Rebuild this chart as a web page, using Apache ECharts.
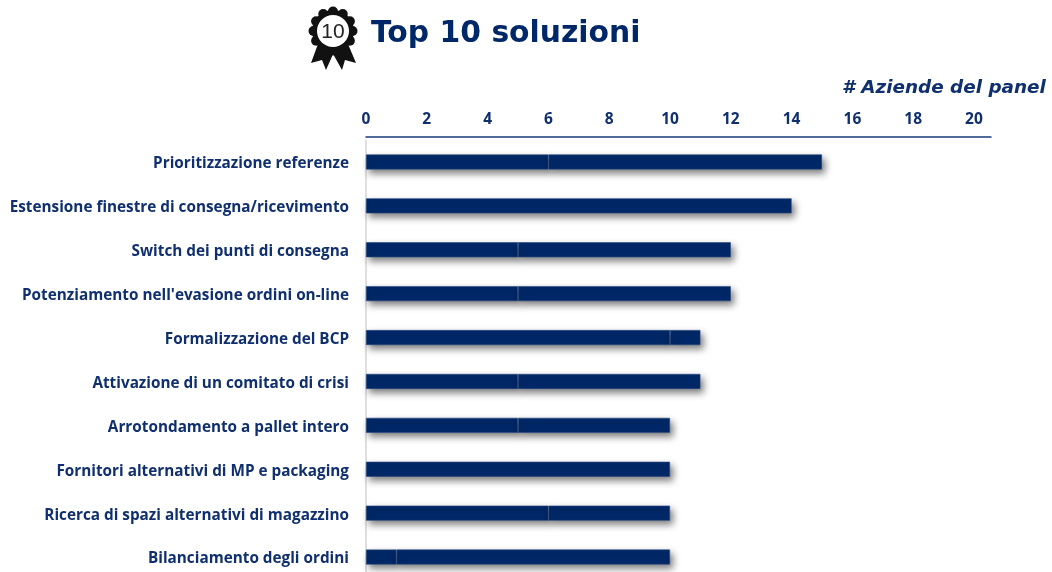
<!DOCTYPE html>
<html>
<head>
<meta charset="utf-8">
<style>html,body{margin:0;padding:0;background:#fff;overflow:hidden;height:572px}#chart{width:1052px;height:620px}</style>
<script src="https://cdn.jsdelivr.net/npm/echarts@6/dist/echarts.min.js"></script>
</head>
<body>
<div id="chart"></div>
<script>
const categories = [
  'Prioritizzazione referenze',
  'Estensione finestre di consegna/ricevimento',
  'Switch dei punti di consegna',
  "Potenziamento nell'evasione ordini on-line",
  'Formalizzazione del BCP',
  'Attivazione di un comitato di crisi',
  'Arrotondamento a pallet intero',
  'Fornitori alternativi di MP e packaging',
  'Ricerca di spazi alternativi di magazzino',
  'Bilanciamento degli ordini'
];
const firstPart  = [6, 14, 5, 5, 10, 5, 5, 10, 6, 1];
const secondPart = [9, null, 7, 7, 1, 6, 5, null, 4, 9];
const navy = '#002868';
const textNavy = '#0f2f6e';

const barStyle = {
  color: navy,
  borderColor: '#2a4a82',
  borderWidth: 0.6,
  shadowColor: 'rgba(0,0,0,0.5)',
  shadowBlur: 7,
  shadowOffsetX: 3,
  shadowOffsetY: 4
};

// Scalloped rim of the award badge
const scallops = [0, 1, 2, 3, 4, 5, 6, 7, 8, 9, 10, 11].map(i => {
  const a = i / 12 * Math.PI * 2;
  return { type: 'circle', shape: { cx: 24 + 19.5 * Math.cos(a), cy: 25 + 19.5 * Math.sin(a), r: 5 }, style: { fill: '#111' } };
});

const chart = echarts.init(document.getElementById('chart'), null, { renderer: 'canvas' });
chart.setOption({
  animation: false,
  backgroundColor: '#fff',
  grid: { left: 366, top: 140, width: 625, height: 439 },
  xAxis: {
    type: 'value',
    position: 'top',
    offset: 3.5,
    min: 0,
    max: 20.56,
    interval: 2,
    splitLine: { show: false },
    axisTick: { show: false },
    axisLine: { show: true, onZero: false, lineStyle: { color: '#1b3a78', width: 1.5 } },
    axisLabel: {
      showMaxLabel: false,
      margin: 9,
      color: textNavy,
      fontFamily: '"Open Sans"',
      fontWeight: 'bold',
      fontSize: 15.5
    }
  },
  yAxis: {
    type: 'category',
    inverse: true,
    data: categories,
    axisTick: { show: false },
    axisLine: { show: true, lineStyle: { color: '#d4d4d4', width: 1.5 } },
    axisLabel: {
      margin: 17,
      formatter: '{row|{value}}',
      rich: {
        row: {
          padding: [4, 0, 0, 0],
          color: textNavy,
          fontFamily: '"Open Sans"',
          fontWeight: 'bold',
          fontSize: 15.3
        }
      }
    }
  },
  series: [
    { type: 'bar', stack: 'total', data: firstPart, barWidth: 15, itemStyle: barStyle },
    { type: 'bar', stack: 'total', data: secondPart, barWidth: 15, itemStyle: barStyle }
  ],
  graphic: [
    {
      type: 'text', x: 371, y: 19,
      style: { text: 'Top 10 soluzioni', fill: navy, fontFamily: '"DejaVu Sans"', fontWeight: 'bold', fontSize: 29.8 }
    },
    {
      type: 'text', x: 842, y: 79,
      style: { text: '# Aziende del panel', fill: textNavy, fontFamily: '"DejaVu Sans"', fontWeight: 'bold', fontStyle: 'italic', fontSize: 18.4 }
    },
    // Award ribbon icon
    {
      type: 'group', x: 309, y: 6,
      children: [
        { type: 'polygon', shape: { points: [[9,38],[2,57],[13,54],[17,64],[25,46]] }, style: { fill: '#111' } },
        { type: 'polygon', shape: { points: [[39,38],[47,57],[36,54],[33,64],[23,46]] }, style: { fill: '#111' } },
        { type: 'circle', shape: { cx: 24, cy: 25, r: 21 }, style: { fill: '#111' } },
        ...scallops,
        { type: 'circle', shape: { cx: 24, cy: 25, r: 16 }, style: { fill: '#fff' } },
        { type: 'text', x: 24, y: 26, style: { text: '10', fill: '#222', fontFamily: '"Liberation Sans"', fontSize: 21, align: 'center', verticalAlign: 'middle' } }
      ]
    }
  ]
});
</script>
</body>
</html>
